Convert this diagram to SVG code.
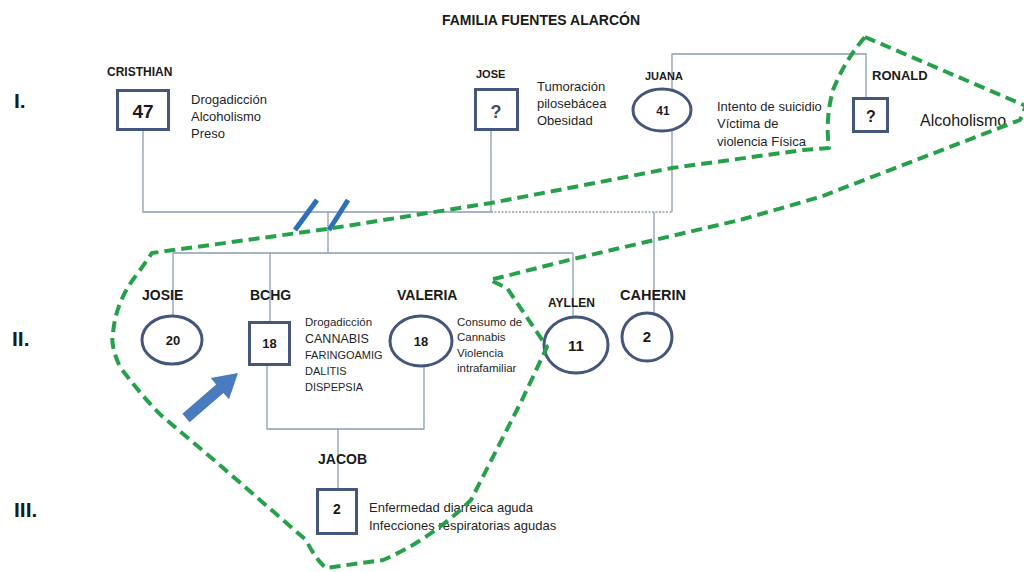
<svg xmlns="http://www.w3.org/2000/svg" width="1024" height="572" viewBox="0 0 1024 572">
<style>
text{font-family:"Liberation Sans",Arial,sans-serif;fill:#1a1a1a}
.b{font-weight:bold}
.gen{font-weight:bold;font-size:21px}
.box{fill:#fff;stroke:#44577a;stroke-width:3}
.ell{fill:#fff;stroke:#44577a;stroke-width:3}
.num{font-weight:bold;text-anchor:middle}
.q{fill:#3b4f70}
.note{font-size:13px;fill:#1f1f1f}
.con{fill:none;stroke:#8a9bb4;stroke-width:1.3}
.slash{stroke:#2e6fba;stroke-width:5;stroke-linecap:butt}
.green{fill:none;stroke:#27a04b;stroke-width:4;stroke-dasharray:11 6;stroke-linejoin:round}
</style>
<rect width="1024" height="572" fill="#fff"/>
<text x="541" y="25" class="b" font-size="14" text-anchor="middle">FAMILIA FUENTES ALARCÓN</text>
<text x="14" y="108" class="gen">I.</text>
<text x="12" y="346" class="gen">II.</text>
<text x="14" y="517" class="gen">III.</text>

<g id="connectors">
<polyline class="con" points="143,131 143,212 491,212 491,131"/>
<line class="con" x1="491" y1="212" x2="672" y2="212" stroke-dasharray="2 1.5" style="stroke:#9a9a9a"/>
<polyline class="con" points="672,90 672,54 866,54 866,98"/>
<line class="con" x1="672" y1="131" x2="672" y2="212"/>
<line class="con" x1="328" y1="212" x2="328" y2="253"/>
<line class="con" x1="173" y1="253" x2="573" y2="253"/>
<line class="con" x1="173" y1="253" x2="173" y2="316"/>
<line class="con" x1="270" y1="253" x2="270" y2="321"/>
<line class="con" x1="573" y1="253" x2="573" y2="317"/>
<line class="con" x1="654" y1="212" x2="654" y2="313"/>
<polyline class="con" points="267,366 267,429 424,429 424,366"/>
<line class="con" x1="338" y1="429" x2="338" y2="489"/>
<line class="slash" x1="317" y1="200" x2="295" y2="230"/>
<line class="slash" x1="348" y1="200" x2="329" y2="230"/>
</g>

<g id="cristhian">
<text x="107" y="76" class="b" font-size="12">CRISTHIAN</text>
<rect class="box" x="117.5" y="90.5" width="51" height="39"/>
<text x="143" y="118" class="num" font-size="19">47</text>
<text class="note"><tspan x="191" y="104">Drogadicción</tspan><tspan x="191" y="121">Alcoholismo</tspan><tspan x="191" y="138">Preso</tspan></text>
</g>

<g id="jose">
<text x="476" y="78" class="b" font-size="11">JOSE</text>
<rect class="box" x="475.5" y="89.5" width="42" height="40"/>
<text x="496" y="118" class="num q" font-size="18">?</text>
<text class="note"><tspan x="537" y="91">Tumoración</tspan><tspan x="537" y="108">pilosebácea</tspan><tspan x="537" y="125">Obesidad</tspan></text>
</g>

<g id="juana">
<text x="645" y="80" class="b" font-size="11">JUANA</text>
<ellipse class="ell" cx="662" cy="110" rx="29" ry="21"/>
<text x="663" y="115" class="num" font-size="12">41</text>
<text class="note"><tspan x="717" y="111">Intento de suicidio</tspan><tspan x="717" y="128">Víctima de</tspan><tspan x="717" y="146">violencia Física</tspan></text>
</g>

<g id="ronald">
<text x="872" y="80" class="b" font-size="13">RONALD</text>
<rect class="box" x="853.5" y="98.5" width="34" height="33"/>
<text x="871" y="122" class="num" font-size="16">?</text>
<text x="920" y="126" font-size="16" fill="#1f1f1f">Alcoholismo</text>
</g>

<g id="josie">
<text x="142" y="300" class="b" font-size="14">JOSIE</text>
<ellipse class="ell" cx="172" cy="340" rx="30" ry="24"/>
<text x="173" y="345" class="num" font-size="13">20</text>
</g>

<g id="bchg">
<text x="250" y="300" class="b" font-size="14">BCHG</text>
<rect class="box" x="249.5" y="322.5" width="40" height="42"/>
<text x="269.5" y="348" class="num" font-size="13">18</text>
<text class="note" style="font-size:11.5px"><tspan x="305" y="326">Drogadicción</tspan><tspan x="305" y="343" style="font-size:12.5px">CANNABIS</tspan><tspan x="305" y="359" style="font-size:11px">FARINGOAMIG</tspan><tspan x="305" y="375" style="font-size:11px">DALITIS</tspan><tspan x="305" y="391" style="font-size:11px">DISPEPSIA</tspan></text>
</g>

<g id="valeria">
<text x="397" y="300" class="b" font-size="14">VALERIA</text>
<ellipse class="ell" cx="421" cy="341" rx="31" ry="25"/>
<text x="421" y="346" class="num" font-size="13">18</text>
<text class="note" style="font-size:11.5px"><tspan x="457" y="326">Consumo de</tspan><tspan x="457" y="341">Cannabis</tspan><tspan x="457" y="357">Violencia</tspan><tspan x="457" y="372">intrafamiliar</tspan></text>
</g>

<g id="ayllen">
<text x="548" y="307" class="b" font-size="12">AYLLEN</text>
<ellipse class="ell" cx="576" cy="345" rx="32" ry="28"/>
<text x="576" y="351" class="num" font-size="15">11</text>
</g>

<g id="caherin">
<text x="620" y="300" class="b" font-size="14.5">CAHERIN</text>
<ellipse class="ell" cx="647" cy="337" rx="25" ry="24"/>
<text x="647" y="342" class="num" font-size="15">2</text>
</g>

<g id="jacob">
<text x="318" y="464" class="b" font-size="14">JACOB</text>
<rect class="box" x="317.5" y="489.5" width="39" height="44"/>
<text x="337" y="514" class="num" font-size="14">2</text>
<text class="note"><tspan x="369" y="512">Enfermedad diarreica aguda</tspan><tspan x="369" y="530">Infecciones respiratorias agudas</tspan></text>
</g>

<g id="index-arrow">
<polygon fill="#4a7bbf" points="182.4,413.8 216.2,384.5 210.7,378.1 238,373 229.0,399.3 223.4,392.9 189.6,422.2"/>
</g>

<g id="enclosure">
<path class="green" d="M865,37 L1026,106 L1020,120 L820,197 L740,220 L573,259 L490,280 L507,288 L547,347 L522,400 L471,500 Q430,540 383,560 L326,568 Q316,560 306,540 L214,460 L163,417 Q145,400 120,367 Q110,345 113,333 Q116,300 138,273 L152,253 L327,229 L491,203 L600,182 L672,168 L803,150 L829,148 Q825,120 833,90 Q845,60 865,37 Z"/>
</g>
</svg>
